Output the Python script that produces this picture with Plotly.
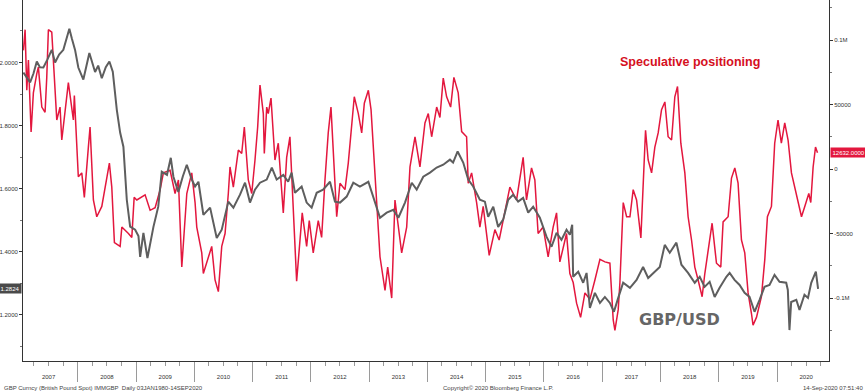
import datetime as dt
import plotly.graph_objects as go

# ---------------- data ----------------
# GBP/USD spot (decimal year, price)
gbp_t = [2007.067, 2007.125, 2007.182, 2007.240, 2007.297, 2007.350, 2007.410, 2007.480, 2007.554,
         2007.611, 2007.680, 2007.753, 2007.856, 2007.900, 2007.954, 2008.010, 2008.096, 2008.199,
         2008.297, 2008.350, 2008.412, 2008.480, 2008.542, 2008.600, 2008.669, 2008.726, 2008.782,
         2008.840, 2008.897, 2008.983, 2009.040, 2009.069, 2009.125, 2009.194, 2009.297, 2009.380,
         2009.440, 2009.530, 2009.595, 2009.640, 2009.725, 2009.800, 2009.870, 2009.955, 2010.012,
         2010.070, 2010.155, 2010.270, 2010.384, 2010.470, 2010.583, 2010.670, 2010.784, 2010.870,
         2010.955, 2011.040, 2011.127, 2011.242, 2011.330, 2011.413, 2011.527, 2011.610, 2011.670,
         2011.727, 2011.842, 2011.928, 2012.014, 2012.100, 2012.210, 2012.328, 2012.413, 2012.500,
         2012.614, 2012.727, 2012.840, 2012.985, 2013.070, 2013.185, 2013.300, 2013.414, 2013.500,
         2013.614, 2013.730, 2013.815, 2013.928, 2014.043, 2014.158, 2014.271, 2014.386, 2014.440,
         2014.518, 2014.614, 2014.700, 2014.785, 2014.900, 2014.986, 2015.043, 2015.130, 2015.214,
         2015.300, 2015.386, 2015.470, 2015.557, 2015.643, 2015.730, 2015.815, 2015.930, 2016.044,
         2016.130, 2016.216, 2016.300, 2016.387, 2016.444, 2016.484, 2016.500, 2016.587, 2016.672,
         2016.730, 2016.787, 2016.873, 2016.959, 2017.044, 2017.130, 2017.199, 2017.273, 2017.358,
         2017.474, 2017.588, 2017.700, 2017.787, 2017.900, 2017.987, 2018.072, 2018.158, 2018.272,
         2018.358, 2018.472, 2018.587, 2018.673, 2018.757, 2018.843, 2018.929, 2019.014, 2019.130,
         2019.186, 2019.270, 2019.357, 2019.443, 2019.528, 2019.614, 2019.700, 2019.785, 2019.871,
         2019.957, 2020.043, 2020.157, 2020.185, 2020.213, 2020.242, 2020.330, 2020.385, 2020.470,
         2020.530, 2020.586, 2020.665, 2020.703]
gbp_v = [1.968, 1.950, 1.937, 1.965, 2.003, 1.985, 1.984, 2.010, 2.040,
         2.000, 2.025, 2.040, 2.107, 2.075, 2.040, 1.984, 1.946, 2.030,
         1.970, 1.990, 1.950, 1.985, 2.003, 1.971, 1.850, 1.778, 1.733,
         1.565, 1.480, 1.470, 1.450, 1.384, 1.460, 1.380, 1.479, 1.543,
         1.654, 1.644, 1.698, 1.638, 1.590, 1.638, 1.676, 1.629, 1.607,
         1.622, 1.517, 1.540, 1.444, 1.470, 1.559, 1.540, 1.581, 1.619,
         1.556, 1.597, 1.619, 1.629, 1.667, 1.629, 1.644, 1.622, 1.651,
         1.587, 1.607, 1.556, 1.540, 1.587, 1.597, 1.622, 1.559, 1.556,
         1.575, 1.619, 1.607, 1.622, 1.575, 1.508, 1.524, 1.533, 1.508,
         1.556, 1.619, 1.597, 1.638, 1.651, 1.667, 1.676, 1.692, 1.683,
         1.718, 1.683, 1.629, 1.607, 1.565, 1.559, 1.511, 1.543, 1.479,
         1.502, 1.565, 1.581, 1.559, 1.571, 1.524, 1.543, 1.508, 1.448,
         1.416, 1.460, 1.438, 1.470, 1.454, 1.486, 1.321, 1.337, 1.302,
         1.333, 1.222, 1.270, 1.238, 1.257, 1.238, 1.210, 1.254, 1.302,
         1.286, 1.311, 1.352, 1.317, 1.337, 1.352, 1.422, 1.397, 1.429,
         1.359, 1.333, 1.302, 1.321, 1.289, 1.305, 1.257, 1.286, 1.321,
         1.333, 1.311, 1.295, 1.270, 1.257, 1.210, 1.248, 1.289, 1.295,
         1.327, 1.305, 1.302, 1.279, 1.152, 1.241, 1.248, 1.216, 1.264,
         1.254, 1.302, 1.337, 1.2824]

# IMM GBP speculative net positioning (decimal year, contracts)
pos_t = [2007.067, 2007.096, 2007.125, 2007.153, 2007.199, 2007.238, 2007.297, 2007.324, 2007.383,
         2007.439, 2007.468, 2007.496, 2007.554, 2007.582, 2007.640, 2007.696, 2007.726, 2007.839,
         2007.925, 2007.942, 2007.983, 2008.010, 2008.069, 2008.113, 2008.182, 2008.211, 2008.268,
         2008.326, 2008.412, 2008.497, 2008.542, 2008.583, 2008.628, 2008.726, 2008.755, 2008.868,
         2008.926, 2008.966, 2009.012, 2009.154, 2009.240, 2009.326, 2009.412, 2009.468, 2009.583,
         2009.669, 2009.726, 2009.784, 2009.870, 2009.955, 2010.012, 2010.041, 2010.127, 2010.154,
         2010.213, 2010.298, 2010.355, 2010.412, 2010.470, 2010.527, 2010.583, 2010.612, 2010.669,
         2010.755, 2010.813, 2010.858, 2010.926, 2010.985, 2011.041, 2011.087, 2011.127, 2011.184,
         2011.201, 2011.242, 2011.269, 2011.316, 2011.384, 2011.441, 2011.527, 2011.585, 2011.641,
         2011.671, 2011.756, 2011.852, 2011.928, 2011.973, 2012.041, 2012.127, 2012.185, 2012.242,
         2012.298, 2012.345, 2012.413, 2012.443, 2012.499, 2012.585, 2012.641, 2012.744, 2012.813,
         2012.871, 2012.916, 2012.985, 2013.031, 2013.099, 2013.185, 2013.271, 2013.317, 2013.386,
         2013.442, 2013.557, 2013.643, 2013.700, 2013.786, 2013.871, 2013.957, 2014.014, 2014.072,
         2014.158, 2014.214, 2014.271, 2014.329, 2014.398, 2014.454, 2014.528, 2014.587, 2014.672,
         2014.700, 2014.758, 2014.844, 2014.900, 2014.957, 2015.060, 2015.158, 2015.231, 2015.300,
         2015.415, 2015.530, 2015.643, 2015.701, 2015.787, 2015.844, 2015.900, 2015.986, 2016.072,
         2016.158, 2016.216, 2016.273, 2016.387, 2016.444, 2016.501, 2016.559, 2016.628, 2016.702,
         2016.787, 2016.873, 2016.959, 2017.045, 2017.130, 2017.187, 2017.216, 2017.273, 2017.302,
         2017.359, 2017.417, 2017.474, 2017.530, 2017.588, 2017.662, 2017.742, 2017.787, 2017.846,
         2017.902, 2017.959, 2018.017, 2018.074, 2018.130, 2018.189, 2018.245, 2018.291, 2018.348,
         2018.417, 2018.473, 2018.532, 2018.588, 2018.645, 2018.714, 2018.760, 2018.816, 2018.885,
         2018.960, 2019.034, 2019.074, 2019.160, 2019.218, 2019.275, 2019.331, 2019.389, 2019.446,
         2019.503, 2019.561, 2019.588, 2019.647, 2019.732, 2019.790, 2019.835, 2019.904, 2019.960,
         2020.017, 2020.074, 2020.132, 2020.189, 2020.247, 2020.333, 2020.419, 2020.475, 2020.544,
         2020.578, 2020.618, 2020.659, 2020.693]
pos_v = [92000, 108000, 61000, 84500, 28700, 59000, 74000, 79000, 48000,
         44000, 71000, 108000, 106000, 84500, 38000, 48000, 22500, 67000,
         38000, 57000, 12000, -6000, -3000, -22000, 17000, 32600, -24000,
         -37000, -29000, -8500, 4600, -14000, -57000, -60000, -45000, -50000,
         -53000, -22000, -24000, -20000, -32000, -30000, -16000, -3000, -1000,
         -19000, -8500, -76000, -19000, -3000, -26000, -45000, -65000, -81000,
         -73000, -60000, -86000, -95000, -60000, -50000, -19000, 1600, -14000,
         14700, 12000, 32600, -8500, -19000, 7000, 32600, 65000, 43000,
         12000, 48000, 43000, 55000, 7000, 20000, -34000, 9000, 25000,
         -3000, -87000, -34000, -60000, -40000, -65000, -40000, -53000, -8500,
         28000, 48000, -14000, -37000, -11000, -16000, 4600, 56000, 43000,
         28000, 51000, 61000, 46000, -3000, -68000, -94000, -76000, -100000,
         -24000, -65000, -45000, 1600, 25000, 1600, 35700, 43000, 25000,
         48000, 40000, 70500, 56000, 48000, 71000, 59000, 29000, 25000,
         -11000, -3000, -26000, -45000, -29000, -67000, -47000, -55000, -40000,
         -14000, -24000, 9000, -24000, 800, -8500, -50000, -45000, -68000,
         -45000, -34000, -72000, -50000, -81000, -88000, -104000, -115000, -96000,
         -101000, -86000, -70000, -72000, -73000, -117000, -125000, -109000, -88000,
         -26000, -37000, -37000, -16000, -24000, -53500, 30000, 7000, -3000,
         17000, 28000, 46000, 52000, 25000, 22500, 56000, 64000, 20000,
         -3000, -37000, -55000, -76000, -86000, -99000, -81000, -65000, -42000,
         -73000, -76000, -41000, -37000, -7000, 800, -11000, -55000, -65000,
         -96000, -112000, -121000, -115000, -99000, -70000, -37000, -29000, 20000,
         38000, 20000, 35700, 22500, -3000, -19000, -37000, -29000, -19000,
         -26000, 1600, 17000, 12632]

right_tickvals = [-100000, -50000, 0, 50000, 100000]
right_ticktext = ["-0.1M", "-50000", "0", "50000", "0.1M"]
last_gbp_label = "1.2824"
last_pos_label = "12632.0000"


def to_date(t):
    y = int(t)
    start = dt.datetime(y, 1, 1)
    end = dt.datetime(y + 1, 1, 1)
    return start + (end - start) * (t - y)


gbp_x = [to_date(t) for t in gbp_t]
pos_x = [to_date(t) for t in pos_t]

RED = "#e3173e"
GREY = "#5e5e5e"
FONT = "Liberation Sans, Arial"
TICKFONT = dict(family=FONT, size=6, color="#333333")
FOOTFONT = dict(family=FONT, size=6, color="#444444")

fig = go.Figure()
fig.add_trace(go.Scatter(x=pos_x, y=pos_v, mode="lines", yaxis="y",
                         line=dict(color=RED, width=1.5), name="Speculative positioning",
                         showlegend=False))
fig.add_trace(go.Scatter(x=gbp_x, y=gbp_v, mode="lines", yaxis="y2",
                         line=dict(color=GREY, width=2), name="GBP/USD",
                         showlegend=False))

fig.update_layout(
    width=865, height=392,
    margin=dict(l=23, r=36, t=0, b=31, autoexpand=False),
    paper_bgcolor="white", plot_bgcolor="white",
    xaxis=dict(
        type="date", automargin=False,
        range=[to_date(2007.06), to_date(2020.89)],
        dtick="M12", tick0="2007-01-01", ticklabelmode="period", tickformat="%Y",
        ticks="outside", ticklen=20, tickcolor="#9a9a9a", tickwidth=1,
        ticklabelstandoff=-10,
        showline=True, linecolor="#333333", linewidth=1,
        showgrid=False, zeroline=False, tickfont=TICKFONT,
        minor=dict(dtick="M3", ticks="outside", ticklen=4, tickcolor="#9a9a9a"),
    ),
    yaxis=dict(
        side="right", automargin=False, range=[-148800, 131000],
        tickvals=right_tickvals, ticktext=right_ticktext,
        ticks="outside", ticklen=3, tickcolor="#333333",
        showline=True, linecolor="#333333", linewidth=1,
        showgrid=False, zeroline=False, tickfont=TICKFONT,
        minor=dict(dtick=25000, tick0=0, ticks="outside", ticklen=2, tickcolor="#777777"),
    ),
    yaxis2=dict(
        side="left", overlaying="y", automargin=False, range=[1.054, 2.198],
        tick0=1.2, dtick=0.2, tickformat=".4f",
        ticks="outside", ticklen=3, tickcolor="#333333",
        showline=True, linecolor="#333333", linewidth=1,
        showgrid=False, zeroline=False, tickfont=TICKFONT,
        minor=dict(dtick=0.1, tick0=1.0, ticks="outside", ticklen=2, tickcolor="#777777"),
    ),
    annotations=[
        dict(text="<b>Speculative positioning</b>", xref="paper", yref="paper",
             x=0.8275, y=0.828, xanchor="center", yanchor="middle", showarrow=False,
             font=dict(family=FONT, size=12.5, color="#d5101e")),
        dict(text="<b>GBP/USD</b>", xref="paper", yref="paper",
             x=0.814, y=0.1136, xanchor="center", yanchor="middle", showarrow=False,
             font=dict(family="DejaVu Sans, Verdana", size=16, color="#666666")),
        dict(text=last_gbp_label, xref="paper", yref="y2", x=0, y=gbp_v[-1],
             xanchor="right", yanchor="middle", xshift=-1, showarrow=False,
             bgcolor="#4a4a4a", borderpad=1.5,
             font=dict(family=FONT, size=6, color="white")),
        dict(text=last_pos_label, xref="paper", yref="y", x=1, y=pos_v[-1],
             xanchor="left", yanchor="middle", xshift=1, showarrow=False,
             bgcolor=RED, borderpad=1.5,
             font=dict(family=FONT, size=6, color="white")),
        dict(text="GBP Curncy (British Pound Spot) IMMGBP  Daily 03JAN1980-14SEP2020",
             xref="paper", yref="paper", x=-0.026, y=-0.075, xanchor="left", yanchor="middle",
             showarrow=False, font=FOOTFONT),
        dict(text="Copyright\u00a9 2020 Bloomberg Finance L.P.",
             xref="paper", yref="paper", x=0.59, y=-0.075, xanchor="center", yanchor="middle",
             showarrow=False, font=FOOTFONT),
        dict(text="14-Sep-2020 07:51:40",
             xref="paper", yref="paper", x=1.0446, y=-0.075, xanchor="right", yanchor="middle",
             showarrow=False, font=FOOTFONT),
    ],
)

fig.write_html("out.html", config={"displayModeBar": False},
               post_script="document.body.style.margin='0px';document.body.style.overflow='hidden';")
